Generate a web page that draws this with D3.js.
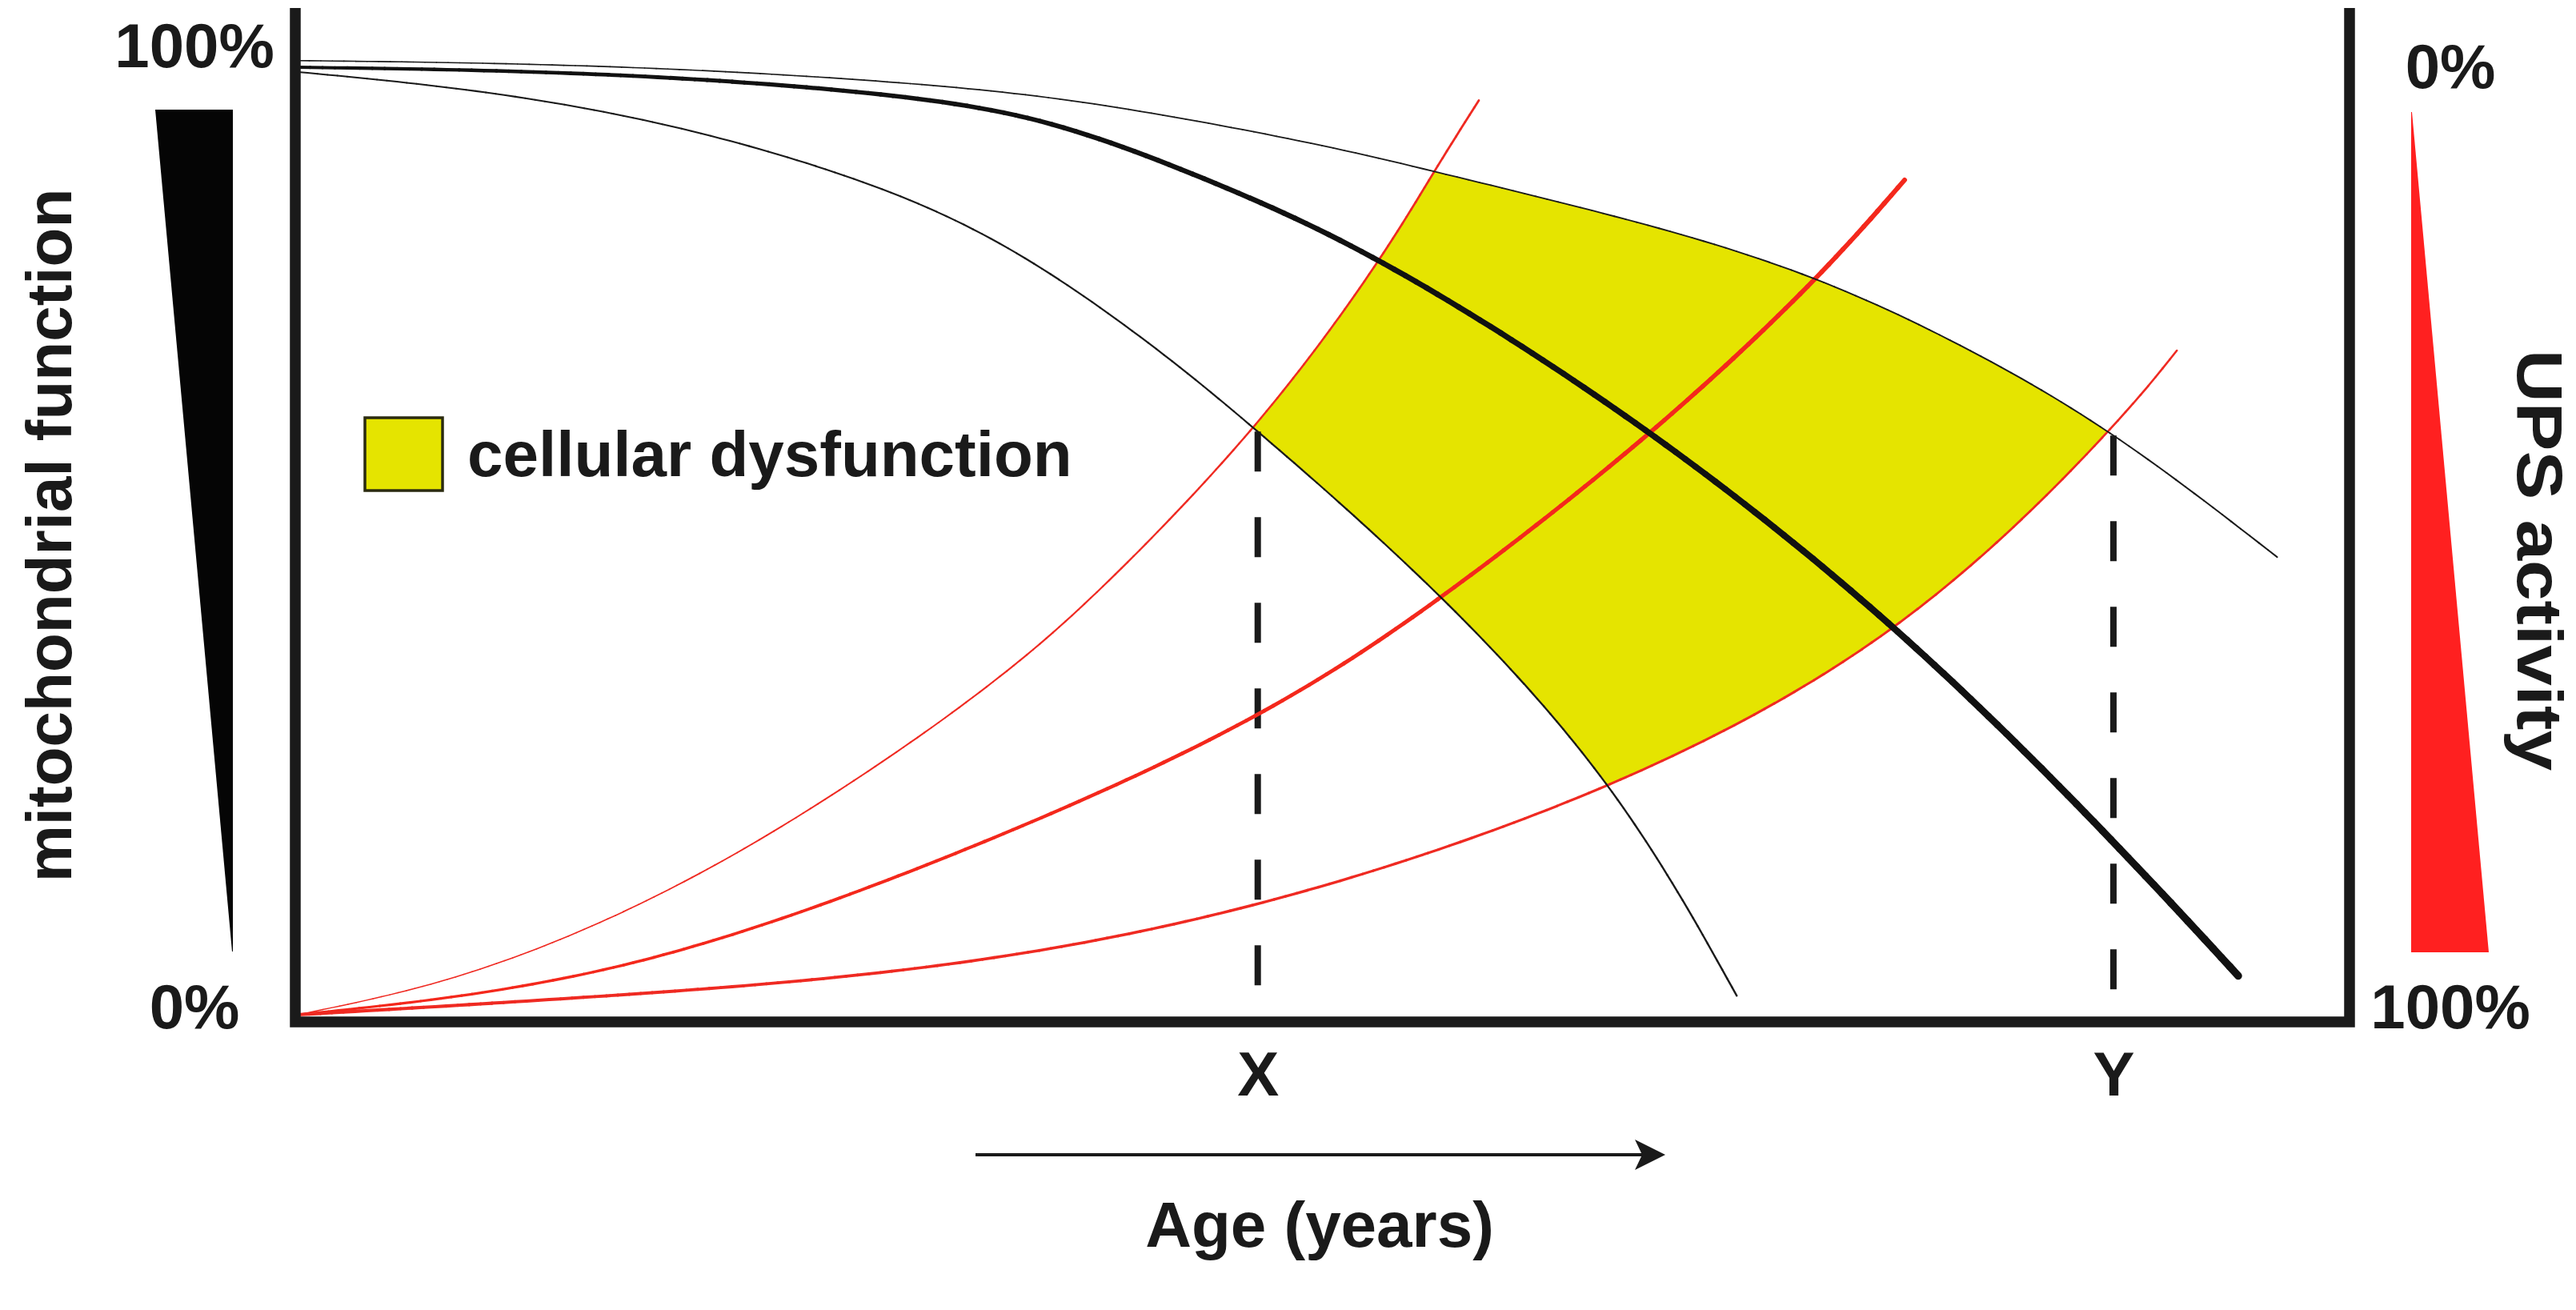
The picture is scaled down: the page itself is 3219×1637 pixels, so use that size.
<!DOCTYPE html>
<html>
<head>
<meta charset="utf-8">
<script src="https://cdn.jsdelivr.net/npm/d3@7"></script>
<style>
  body { margin: 0; background: #fff; }
  svg text { font-family: "Liberation Sans", Arial, Helvetica, sans-serif; font-weight: bold; fill: #1a1a1a; }
</style>
</head>
<body>
<svg id="chart" width="3219" height="1637"></svg>
<script>
// age runs 0..100 from the left wall to the right wall (no real units in the figure)
// mitochondrial function, % (left axis, 100 at top)
var mitoUpperAge = [0, 15.6, 31.8, 40.2, 50.4, 55.5, 66.4, 74.2, 81.4, 88.7, 96.7];
var mitoUpperVal = [100.7, 100.3, 98.2, 95.9, 91.7, 89.0, 83.3, 78.0, 70.7, 61.7, 48.3];

var mitoMidAge = [0, 15.8, 31.9, 38.4, 44.9, 52.9, 66.4, 78.7, 88.8, 94.8];
var mitoMidVal = [100, 99.5, 96.8, 93.3, 87.8, 80.2, 61.6, 40.2, 18.2, 4.1];

var mitoLowerAge = [0, 9.3, 19.0, 28.7, 35.2, 41.7, 46.9, 56.3, 64.7, 70.3];
var mitoLowerVal = [99.5, 97.6, 93.8, 87.5, 80.8, 70.9, 61.7, 43.8, 23.7, 2.0];

// UPS activity, % (right axis, 0 at top / 100 at bottom)
var upsFastAge = [0, 7.0, 14.5, 22.0, 29.5, 34.4, 38.6, 46.9, 52.9, 55.5, 57.7];
var upsFastVal = [100, 96.9, 90.9, 82.6, 72.1, 64.3, 56.7, 38.3, 20.5, 11.0, 3.5];

var upsMidAge = [0, 15.3, 31.5, 46.9, 56.3, 66.4, 74.2, 78.5];
var upsMidVal = [100, 96.5, 84.0, 69.3, 55.6, 38.4, 22.6, 11.9];

var upsSlowAge = [0, 16.7, 31.5, 46.9, 64.7, 78.7, 88.7, 91.8];
var upsSlowVal = [100, 97.9, 95.3, 89.2, 76.3, 59.8, 38.3, 29.9];

// onset ages X and Y (where the dashed drops are)
var markAge = [46.9, 88.7];
var markLabels = ["X", "Y"];

var mitoLabels = ["100%", "0%"];
var upsLabels = ["0%", "100%"];
var legendLabel = "cellular dysfunction";

function pts(ages, vals) {
	return ages.map(function(a, i) { return [a, vals[i]]; });
}

var W = 3219, H = 1637;
var svg = d3.select("#chart");
svg.append("rect").attr("width", W).attr("height", H).attr("fill", "#fff");

var x = d3.scaleLinear().domain([0, 100]).range([372, 2930]);
var yMito = d3.scaleLinear().domain([0, 100]).range([1268, 84]);
var yUps = d3.scaleLinear().domain([100, 0]).range([1268, 84]);

var lineMito = d3.line()
	.x(function(d) { return x(d[0]); })
	.y(function(d) { return yMito(d[1]); })
	.curve(d3.curveBasis);
var lineUps = d3.line()
	.x(function(d) { return x(d[0]); })
	.y(function(d) { return yUps(d[1]); })
	.curve(d3.curveBasis);

var mitoUpper = pts(mitoUpperAge, mitoUpperVal);
var mitoMid = pts(mitoMidAge, mitoMidVal);
var mitoLower = pts(mitoLowerAge, mitoLowerVal);
var upsFast = pts(upsFastAge, upsFastVal);
var upsMid = pts(upsMidAge, upsMidVal);
var upsSlow = pts(upsSlowAge, upsSlowVal);

var left = x(0), right = x(100), bot = yMito(0);
function endX(a) { return x(a[a.length - 1]); }

// yellow zone = under the upper black, over the lower black, right of fast red, over slow red
var defs = svg.append("defs");
defs.append("clipPath").attr("id", "underMitoUpper").append("path")
	.attr("d", lineMito(mitoUpper) + "L" + endX(mitoUpperAge) + "," + bot + "L" + left + "," + bot + "Z");
defs.append("clipPath").attr("id", "overMitoLower").append("path")
	.attr("d", lineMito(mitoLower) + "L" + endX(mitoLowerAge) + "," + bot + "L" + right + "," + bot +
		"L" + right + ",0L" + left + ",0Z");
defs.append("clipPath").attr("id", "rightOfUpsFast").append("path")
	.attr("d", lineUps(upsFast) + "L" + endX(upsFastAge) + ",0L" + right + ",0L" + right + "," + bot + "Z");
defs.append("clipPath").attr("id", "overUpsSlow").append("path")
	.attr("d", lineUps(upsSlow) + "L" + endX(upsSlowAge) + ",0L" + left + ",0Z");

svg.append("g").attr("clip-path", "url(#underMitoUpper)")
	.append("g").attr("clip-path", "url(#overMitoLower)")
	.append("g").attr("clip-path", "url(#rightOfUpsFast)")
	.append("g").attr("clip-path", "url(#overUpsSlow)")
	.append("rect")
	.attr("x", left).attr("y", 0)
	.attr("width", right - left).attr("height", bot)
	.style("fill", "#e5e400");

var dropLayer = svg.append("g");

// curves: drawn as many short pieces so the pen width can swell along the line
function drawCurve(c) {
	var guide = svg.append("path")
		.attr("d", c.line(c.d))
		.style("fill", "none")
		.style("stroke", "none");
	var node = guide.node();
	var len = node.getTotalLength();
	var n = 180;
	var samples = d3.range(n + 1).map(function(k) {
		var p = node.getPointAtLength(len * k / n);
		return [p.x, p.y];
	});
	svg.append("g")
		.style("stroke", c.color)
		.style("stroke-linecap", "round")
		.selectAll("line")
		.data(d3.pairs(samples))
		.enter().append("line")
		.attr("x1", function(d) { return d[0][0]; })
		.attr("y1", function(d) { return d[0][1]; })
		.attr("x2", function(d) { return d[1][0]; })
		.attr("y2", function(d) { return d[1][1]; })
		.style("stroke-width", function(d, i) { return c.w0 + (c.w1 - c.w0) * i / (n - 1); });
	return node;
}

// y of a drawn curve at screen x (curves are monotone in x)
function yOnPath(node, px) {
	var lo = 0, hi = node.getTotalLength();
	for (var k = 0; k < 40; k++) {
		var mid = (lo + hi) / 2;
		if (node.getPointAtLength(mid).x < px) lo = mid; else hi = mid;
	}
	return node.getPointAtLength(lo).y;
}

var curves = [
	{ key: "upsFast", d: upsFast, line: lineUps, color: "#ef2a22", w0: 1.4, w1: 2.8 },
	{ key: "upsMid", d: upsMid, line: lineUps, color: "#f4281c", w0: 3, w1: 6 },
	{ key: "upsSlow", d: upsSlow, line: lineUps, color: "#ef2a22", w0: 4.2, w1: 2.6 },
	{ key: "mitoUpper", d: mitoUpper, line: lineMito, color: "#1a1a1a", w0: 1.6, w1: 2 },
	{ key: "mitoLower", d: mitoLower, line: lineMito, color: "#1a1a1a", w0: 2, w1: 2.4 },
	{ key: "mitoMid", d: mitoMid, line: lineMito, color: "#111", w0: 4, w1: 9.5 }
];
var nodes = {};
curves.forEach(function(c) { nodes[c.key] = drawCurve(c); });

// dashed drops at X (lower black meets fast red) and Y (upper black meets slow red)
var dropFrom = [nodes.mitoLower, nodes.mitoUpper];
dropLayer.selectAll("line")
	.data(markAge)
	.enter().append("line")
	.attr("x1", function(d) { return x(d); })
	.attr("x2", function(d) { return x(d); })
	.attr("y1", function(d, i) { return yOnPath(dropFrom[i], x(d)); })
	.attr("y2", bot)
	.style("stroke", "#1a1a1a")
	.style("stroke-width", 8)
	.style("stroke-dasharray", "50,57");

// frame (left wall, floor, right wall)
svg.append("path")
	.attr("d", "M369,10V1277H2936V10")
	.style("fill", "none")
	.style("stroke", "#1a1a1a")
	.style("stroke-width", 13.5)
	.style("stroke-linejoin", "miter");

// X / Y under the floor
var xAxis = d3.axisBottom(x)
	.tickValues(markAge)
	.tickFormat(function(d, i) { return markLabels[i]; })
	.tickSize(0)
	.tickPadding(46);
var gx = svg.append("g").attr("transform", "translate(0," + bot + ")").call(xAxis);
gx.select(".domain").remove();
gx.attr("font-size", 78).attr("font-family", null);
gx.selectAll("text").style("fill", "#1a1a1a");

// side gauges (wedges)
var gaugeW = d3.scaleLinear().domain([0, 100]).range([1, 97]);
var gaugeMitoY = d3.scaleLinear().domain([100, 0]).range([137, 1189]);
var gaugeUpsY = d3.scaleLinear().domain([0, 100]).range([140, 1190]);

svg.append("path")
	.datum([0, 100])
	.attr("d", d3.area()
		.y(function(d) { return gaugeMitoY(d); })
		.x0(function(d) { return 291 - gaugeW(d); })
		.x1(291))
	.style("fill", "#050505");

svg.append("path")
	.datum([0, 100])
	.attr("d", d3.area()
		.y(function(d) { return gaugeUpsY(d); })
		.x0(3013)
		.x1(function(d) { return 3013 + gaugeW(d); }))
	.style("fill", "#ff2020");

svg.selectAll("text.mitoLab")
	.data(mitoLabels)
	.enter().append("text")
	.attr("class", "mitoLab")
	.attr("x", 243)
	.attr("y", function(d, i) { return i == 0 ? yMito(100) : bot + 17; })
	.attr("text-anchor", "middle")
	.attr("font-size", 78)
	.text(function(d) { return d; });

svg.selectAll("text.upsLab")
	.data(upsLabels)
	.enter().append("text")
	.attr("class", "upsLab")
	.attr("x", 3062)
	.attr("y", function(d, i) { return i == 0 ? yUps(0) + 26 : bot + 17; })
	.attr("text-anchor", "middle")
	.attr("font-size", 78)
	.text(function(d) { return d; });

svg.append("text")
	.attr("transform", "translate(89,669) rotate(-90)")
	.attr("text-anchor", "middle")
	.attr("font-size", 80)
	.text("mitochondrial function");

svg.append("text")
	.attr("transform", "translate(3146,700) rotate(90)")
	.attr("text-anchor", "middle")
	.attr("font-size", 80)
	.attr("textLength", 526)
	.attr("lengthAdjust", "spacingAndGlyphs")
	.text("UPS activity");

// legend
svg.append("rect")
	.attr("x", 456).attr("y", 522)
	.attr("width", 97).attr("height", 91)
	.style("fill", "#e5e400")
	.style("stroke", "#2b2b10")
	.style("stroke-width", 3.5);
svg.append("text")
	.attr("x", 584).attr("y", 595)
	.attr("font-size", 80)
	.text(legendLabel);

// age arrow
svg.append("line")
	.attr("x1", 1219).attr("x2", 2055)
	.attr("y1", 1443).attr("y2", 1443)
	.style("stroke", "#1a1a1a")
	.style("stroke-width", 4);
svg.append("path")
	.attr("d", "M2081,1443L2043,1424L2052,1443L2043,1462Z")
	.style("fill", "#1a1a1a");

svg.append("text")
	.attr("x", 1649).attr("y", 1558)
	.attr("text-anchor", "middle")
	.attr("font-size", 80)
	.text("Age (years)");
</script>
</body>
</html>
